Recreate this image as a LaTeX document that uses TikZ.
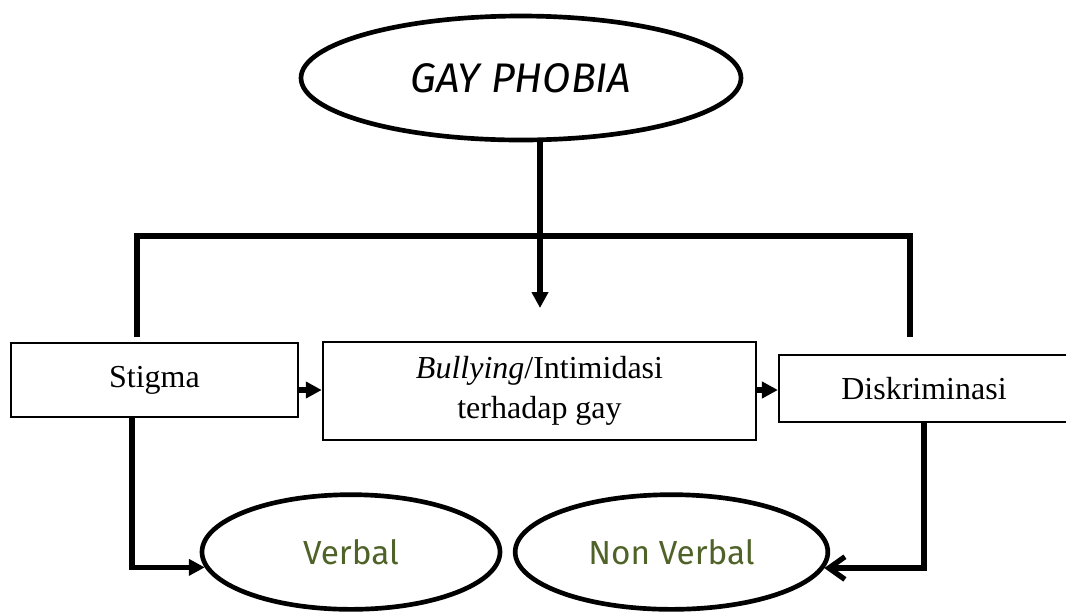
\documentclass[tikz,border=0pt]{standalone}
\usepackage{fontspec}
\setmainfont{Liberation Serif}
\newfontfamily\comicfont{Fira Sans}
\usetikzlibrary{shapes.geometric,arrows.meta,positioning}
\definecolor{verbalgreen}{HTML}{4F6228}

\tikzset{
  bubble/.style={draw,ellipse,line width=3.5pt,inner sep=0pt},
  sortbox/.style={draw,rectangle,line width=1.6pt,inner sep=0pt,align=center,
    font=\fontsize{24}{30}\selectfont},
  bubbletext/.style={font=\comicfont\fontsize{25}{30}\selectfont,text=verbalgreen},
  link/.style={line width=4pt},
  linkarrow/.style={line width=4pt,-{Triangle[length=12pt,width=12pt]}},
  barbarrow/.style={line width=4pt,-{Straight Barb[length=12pt,width=17pt]}},
}

\begin{document}
\begin{tikzpicture}[x=0.75pt,y=-0.75pt]
  \useasboundingbox (0,0) rectangle (1066,612);

  % top
  \node[bubble,minimum width=330pt,minimum height=93pt,
        font=\comicfont\itshape\fontsize{31}{36}\selectfont] (phobia) at (521,78) {GAY PHOBIA};

  % middle row
  \node[sortbox,minimum width=215pt,minimum height=55.5pt] (stigma) at (154.5,380) {Stigma};
  \node[sortbox,minimum width=325pt,minimum height=73.5pt] (bullying) at (539.5,391)
        {\textit{Bullying}/Intimidasi\\terhadap gay};
  \node[sortbox,minimum width=217.5pt,minimum height=50pt] (diskriminasi) at (924,388.5) {Diskriminasi};

  % bottom row
  \node[bubble,bubbletext,minimum width=223.5pt,minimum height=86pt] (verbal) at (351,552) {Verbal};
  \node[bubble,bubbletext,minimum width=234.5pt,minimum height=86pt] (nonverbal) at (671.5,552) {Non Verbal};

  \coordinate (hub) at (540,236);
  \coordinate (tip) at (540,308);
  \coordinate (stigmatop) at (137,337);
  \coordinate (diskrimtop) at (910,337);
  \coordinate (stigmafoot) at (132,417);

  \draw[linkarrow] (phobia.south -| hub) -- (tip);
  \draw[link] (stigmatop) |- (hub) -| (diskrimtop);

  \draw[linkarrow] (stigma.east |- 0,390) -- (bullying.west |- 0,390);
  \draw[linkarrow] (bullying.east |- 0,390) -- (diskriminasi.west |- 0,390);

  \draw[linkarrow] (stigmafoot) |- (verbal.186);
  \draw[barbarrow] (diskriminasi.south) |- (nonverbal.354);
\end{tikzpicture}
\end{document}
